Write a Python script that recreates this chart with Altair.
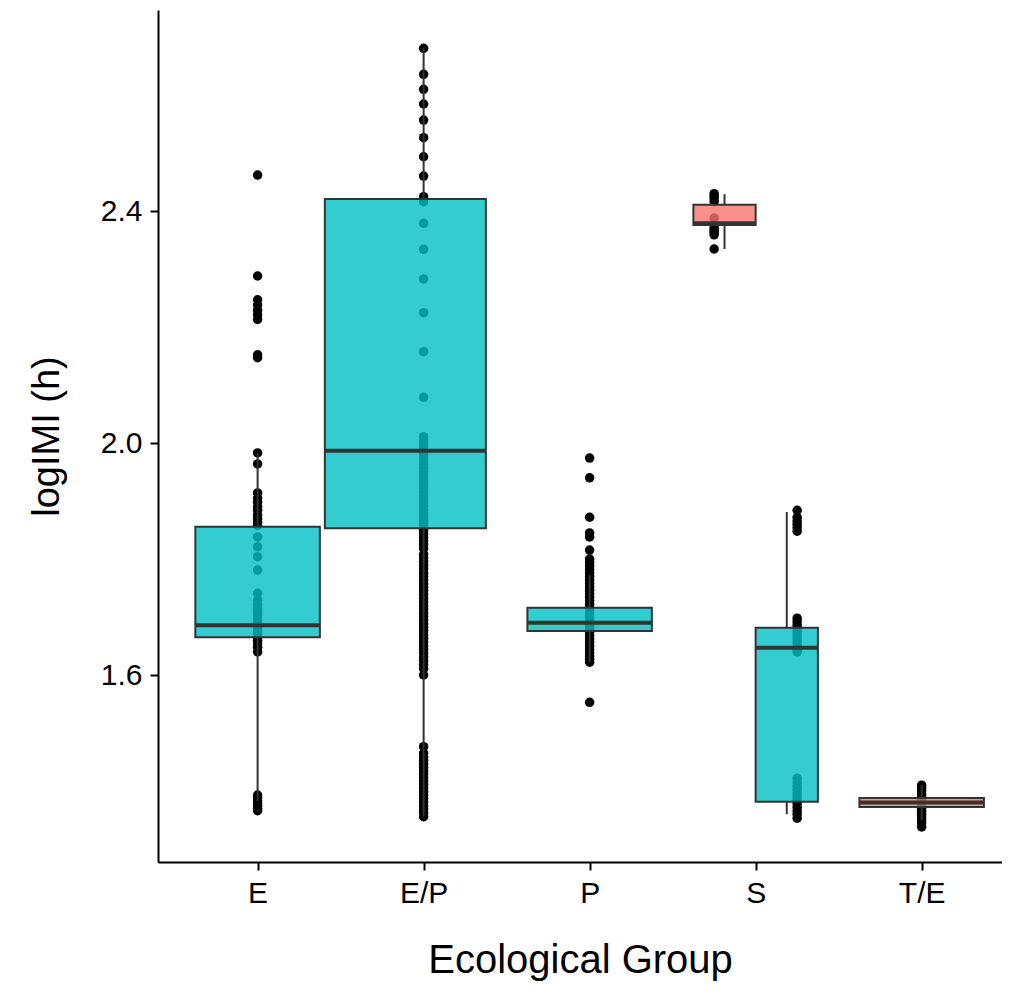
import altair as alt
import pandas as pd

# ---------------- data ----------------
categories = ["E", "E/P", "P", "S", "T/E"]
groups = ["pink", "teal"]
group_colors = ["#F8766D", "#00BFC4"]

# box statistics (one row per box)
box_cat = ["E", "E/P", "P", "S", "S", "T/E"]
box_group = ["teal", "teal", "teal", "pink", "teal", "pink"]
box_wlo = [1.383, 1.356, 1.622, 2.3345, 1.360, 1.350]
box_q1 = [1.665, 1.853, 1.676, 2.376, 1.3815, 1.3724]
box_med = [1.686, 1.9867, 1.690, 2.379, 1.647, 1.380]
box_q3 = [1.8557, 2.4207, 1.716, 2.411, 1.6815, 1.388]
box_whi = [1.983, 2.6805, 1.772, 2.429, 1.881, 1.410]

# observations
pts_E = [2.462, 2.288, 2.247, 2.238, 2.229, 2.221, 2.213, 2.152, 2.147,
         1.983, 1.964, 1.914, 1.905, 1.898, 1.890, 1.884, 1.876, 1.870,
         1.864, 1.858, 1.838, 1.821, 1.804, 1.781, 1.741, 1.729, 1.722,
         1.715, 1.710, 1.705, 1.700, 1.695, 1.690, 1.685, 1.680, 1.675,
         1.670, 1.665, 1.660, 1.655, 1.648, 1.640, 1.393, 1.388, 1.383,
         1.378, 1.374, 1.370, 1.366]
pts_EP = [2.6805, 2.6357, 2.6098, 2.5845, 2.5569, 2.5264, 2.4936, 2.4603,
          2.4247, 2.416, 2.3788, 2.334, 2.2828, 2.2247, 2.1574, 2.0788,
          2.011, 2.005, 1.999, 1.993, 1.987, 1.981, 1.975, 1.969, 1.963,
          1.957, 1.951, 1.945, 1.939, 1.933, 1.927, 1.921, 1.915, 1.909,
          1.903, 1.897, 1.891, 1.885, 1.879, 1.873, 1.867, 1.861, 1.855,
          1.849, 1.843, 1.837, 1.831, 1.825, 1.818, 1.808, 1.802, 1.796,
          1.789, 1.783, 1.776, 1.770, 1.764, 1.757, 1.751, 1.745, 1.739,
          1.732, 1.726, 1.720, 1.714, 1.707, 1.701, 1.695, 1.688, 1.682,
          1.676, 1.669, 1.663, 1.657, 1.650, 1.644, 1.638, 1.631, 1.625,
          1.618, 1.611, 1.600, 1.4764, 1.4655, 1.459, 1.453, 1.447, 1.441,
          1.435, 1.429, 1.423, 1.417, 1.411, 1.405, 1.399, 1.393, 1.387,
          1.381, 1.375, 1.369, 1.363, 1.3557]
pts_P = [1.974, 1.940, 1.872, 1.845, 1.838, 1.8155, 1.800, 1.794, 1.788,
         1.782, 1.776, 1.770, 1.764, 1.758, 1.752, 1.746, 1.740, 1.734,
         1.728, 1.722, 1.716, 1.710, 1.704, 1.698, 1.692, 1.686, 1.680,
         1.674, 1.668, 1.662, 1.656, 1.650, 1.644, 1.638, 1.632, 1.627,
         1.622, 1.553]
pts_S_pink = [2.430, 2.426, 2.421, 2.416, 2.388, 2.371, 2.367, 2.363,
              2.359, 2.3345]
pts_S_teal = [1.884, 1.872, 1.866, 1.860, 1.854, 1.848, 1.698, 1.692,
              1.686, 1.680, 1.674, 1.668, 1.662, 1.656, 1.650, 1.645,
              1.640, 1.422, 1.415, 1.408, 1.402, 1.396, 1.390, 1.384,
              1.378, 1.372, 1.366, 1.360, 1.353]
pts_TE = [1.410, 1.405, 1.400, 1.395, 1.390, 1.385, 1.380, 1.375, 1.370,
          1.365, 1.360, 1.355, 1.350, 1.345, 1.338]

point_sets = [("E", "teal", pts_E), ("E/P", "teal", pts_EP),
              ("P", "teal", pts_P), ("S", "pink", pts_S_pink),
              ("S", "teal", pts_S_teal), ("T/E", "pink", pts_TE)]

# ---------------- layout helpers (dodging) ----------------
BOX_W = 0.75
PT_DODGE = 1.0
left_extend = {"E/P": 0.22}   # E/P box reaches further left in the reference

groups_in_cat = {}
for c, g in zip(box_cat, box_group):
    groups_in_cat.setdefault(c, [])
    if g not in groups_in_cat[c]:
        groups_in_cat[c].append(g)


def dodge(cat, grp, total):
    gs = groups_in_cat[cat]
    n = len(gs)
    i = gs.index(grp)
    w = total / n
    return categories.index(cat) + 1 - total / 2 + w * (i + 0.5), w


rows = []
for c, g, lo, q1, md, q3, hi in zip(box_cat, box_group, box_wlo, box_q1,
                                    box_med, box_q3, box_whi):
    ctr, w = dodge(c, g, BOX_W)
    rows.append(dict(cat=c, grp=g, ctr=ctr,
                     left=ctr - w / 2 - left_extend.get(c, 0.0),
                     right=ctr + w / 2,
                     wlo=lo, q1=q1, med=md, q3=q3, whi=hi))
boxes = pd.DataFrame(rows)

prow = []
for c, g, vals in point_sets:
    xp, _ = dodge(c, g, PT_DODGE)
    for v in vals:
        prow.append(dict(cat=c, grp=g, xp=xp, value=v))
points = pd.DataFrame(prow)

# ---------------- chart ----------------
FONT = "Liberation Sans"
xscale = alt.Scale(domain=[0.4, 5.484], nice=False, zero=False)
yscale = alt.Scale(domain=[1.2776, 2.7466], nice=False, zero=False)
label_expr = "[" + ",".join("'%s'" % c for c in categories) + "][datum.value - 1]"

xaxis = alt.Axis(values=[1, 2, 3, 4, 5], labelExpr=label_expr,
                 title="Ecological Group", grid=False)
yaxis = alt.Axis(values=[1.6, 2.0, 2.4], format=".1f", title="logIMI (h)",
                 grid=False)

pts = alt.Chart(points).mark_circle(size=90, opacity=1, color="black").encode(
    x=alt.X("xp:Q", scale=xscale, axis=xaxis),
    y=alt.Y("value:Q", scale=yscale, axis=yaxis),
)

whisk_hi = alt.Chart(boxes).mark_rule(color="#333333", strokeWidth=2).encode(
    x=alt.X("ctr:Q", scale=xscale), y=alt.Y("q3:Q", scale=yscale), y2="whi:Q")
whisk_lo = alt.Chart(boxes).mark_rule(color="#333333", strokeWidth=2).encode(
    x=alt.X("ctr:Q", scale=xscale), y=alt.Y("wlo:Q", scale=yscale), y2="q1:Q")

box = alt.Chart(boxes).mark_bar(stroke="#333333", strokeWidth=2,
                                fillOpacity=0.8).encode(
    x=alt.X("left:Q", scale=xscale), x2="right:Q",
    y=alt.Y("q1:Q", scale=yscale), y2="q3:Q",
    fill=alt.Fill("grp:N", scale=alt.Scale(domain=groups, range=group_colors),
                  legend=None),
)

med = alt.Chart(boxes).mark_rule(color="#333333", strokeWidth=4).encode(
    x=alt.X("left:Q", scale=xscale), x2="right:Q",
    y=alt.Y("med:Q", scale=yscale))

chart = alt.layer(pts, whisk_hi, whisk_lo, box, med).properties(
    width=844, height=852,
    autosize=alt.AutoSizeParams(type="none"),
    padding={"left": 150, "top": 2, "right": 0, "bottom": 120},
).configure_view(stroke=None).configure_axis(
    domainColor="black", domainWidth=2, tickColor="black", tickWidth=2,
    tickSize=8, labelFont=FONT, labelFontSize=30, labelColor="black",
    labelPadding=8, titleFont=FONT, titleFontSize=38, titleColor="black",
    titleFontWeight="normal",
).configure_axisX(titlePadding=32, titleFontSize=40).configure_axisY(titlePadding=34)

chart.save("out.html", embed_options={"renderer": "svg", "actions": False})
